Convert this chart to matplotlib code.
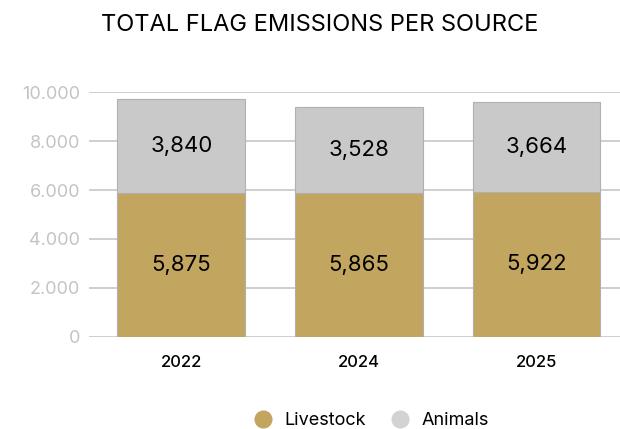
import numpy as np
import matplotlib.pyplot as plt
from matplotlib.lines import Line2D

plt.rcParams['font.family'] = ['Inter', 'DejaVu Sans']

years = ['2022', '2024', '2025']
livestock = [5875, 5865, 5922]
animals = [3840, 3528, 3664]
yticks = [0, 2000, 4000, 6000, 8000, 10000]
ytick_labels = ['0', '2.000', '4.000', '6.000', '8.000', '10.000']

gold = '#c2a55e'
grey = '#c9c9c9'

fig = plt.figure(figsize=(6.2, 4.29), dpi=100)
ax = fig.add_axes([0.1435, 0.2145, 0.8565, 0.571])

x = np.arange(len(years))
width = 0.72
ax.bar(x, livestock, width=width, color=gold, edgecolor='#b0b0b0', linewidth=0.8, zorder=3)
ax.bar(x, animals, width=width, bottom=livestock, color=grey, edgecolor='#b0b0b0', linewidth=0.8, zorder=3)

for i in range(len(years)):
    ax.text(x[i], livestock[i] / 2, f'{livestock[i]:,}', ha='center', va='center',
            fontsize=16, color='black', zorder=4)
    ax.text(x[i], livestock[i] + animals[i] / 2, f'{animals[i]:,}', ha='center', va='center',
            fontsize=16, color='black', zorder=4)

ax.set_xlim(-0.52, 2.47)
ax.set_ylim(0, 10000)
ax.set_yticks(yticks)
ax.set_yticklabels(ytick_labels, color='#c4c4c4', fontsize=13)
ax.set_xticks(x)
ax.set_xticklabels(years, fontsize=12, fontweight='medium')
ax.tick_params(axis='both', length=0)
ax.tick_params(axis='y', pad=6.5)
ax.tick_params(axis='x', pad=13)
ax.grid(axis='y', color='#cccccc', linewidth=1.3, zorder=0)
for s in ax.spines.values():
    s.set_visible(False)

fig.text(0.516, 0.942, 'TOTAL FLAG EMISSIONS PER SOURCE', ha='center', va='center',
         fontsize=17, color='black')

handles = [Line2D([], [], marker='o', linestyle='none', markersize=12, color=gold),
           Line2D([], [], marker='o', linestyle='none', markersize=12, color='#d3d3d3')]
fig.legend(handles, ['Livestock', 'Animals'], loc='center', bbox_to_anchor=(0.592, 0.02),
           ncol=2, frameon=False, fontsize=13, handletextpad=0.2, columnspacing=0.9)

fig.savefig('out.png', dpi=100)
